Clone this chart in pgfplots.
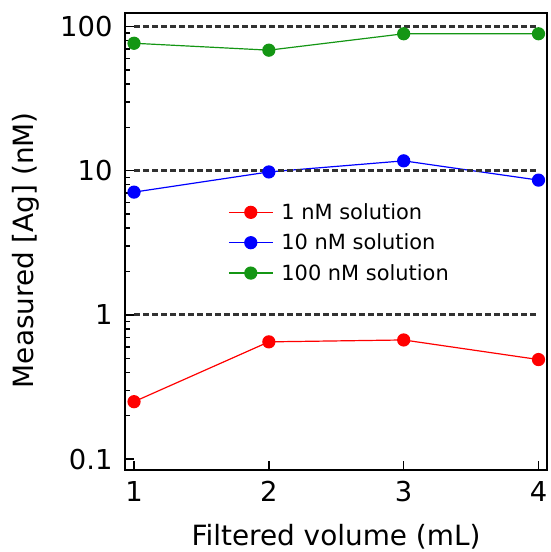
\documentclass[border=0pt]{standalone}
\usepackage{pgfplots}
\pgfplotsset{compat=1.18}
\usepackage{fontspec}
\setmainfont{DejaVu Sans}
\definecolor{cgreen}{RGB}{20,150,20}
\definecolor{dashgray}{RGB}{50,50,50}
\begin{document}
\begin{tikzpicture}
  \begin{axis}[
    name=main,
    scale only axis,
    width=422bp, height=457bp,
    ymode=log,
    xmin=0.933, xmax=4.063,
    ymin=0.084, ymax=124,
    xtick={1,2,3,4},
    ytick={0.1,1,10,100},
    yticklabels={0.1,1,10,100},
    xtick pos=bottom, ytick pos=left,
    tick align=inside,
    major tick length=9bp, minor tick length=5bp,
    every tick/.style={black, line width=1.4bp},
    axis line style={line width=1.6bp},
    tick label style={font=\fontsize{27.5}{30}\selectfont},
    yticklabel style={xshift=-9bp},
    xticklabel style={yshift=-8bp},
    /pgf/number format/assume math mode=true,
    xlabel={Filtered volume (mL)},
    ylabel={Measured [Ag] (nM)},
    label style={font=\fontsize{28}{30}\selectfont},
    xlabel style={at={(rel axis cs:0.5,0)}, anchor=base, yshift=-75bp},
    ylabel style={at={(rel axis cs:0,0.481)}, anchor=base, yshift=91bp},
    legend style={at={(0.237,0.592)}, anchor=north west, draw=none, fill=none,
      font=\fontsize{21}{24}\selectfont, row sep=9bp, column sep=6bp},
    legend cell align=left,
    legend image code/.code={
      \draw[mark repeat=2, mark phase=2] plot coordinates {(0bp,0bp) (22bp,0bp) (44bp,0bp)};
    },
    clip=false,
  ]
    \addplot[red, line width=1.2bp, mark=*, mark size=6bp] coordinates {
      (1,0.25) (2,0.65) (3,0.67) (4,0.49)
    };
    \addlegendentry{1 nM solution}
    \addplot[blue, line width=1.2bp, mark=*, mark size=6bp] coordinates {
      (1,7.1) (2,9.8) (3,11.7) (4,8.6)
    };
    \addlegendentry{10 nM solution}
    \addplot[cgreen, line width=1.2bp, mark=*, mark size=6bp] coordinates {
      (1,76.5) (2,68.5) (3,89) (4,89)
    };
    \addlegendentry{100 nM solution}
    \addplot[dashgray, line width=3.2bp, dash pattern=on 6bp off 3bp, forget plot] coordinates {(1,1) (4,1)};
    \addplot[dashgray, line width=3.2bp, dash pattern=on 6bp off 3bp, forget plot] coordinates {(1,10) (4,10)};
    \addplot[dashgray, line width=3.2bp, dash pattern=on 6bp off 3bp, forget plot] coordinates {(1,100) (4,100)};
  \end{axis}
  \useasboundingbox ([xshift=-125bp,yshift=-82bp]main.south west) rectangle ([xshift=1bp,yshift=13bp]main.north east);
\end{tikzpicture}
\end{document}
